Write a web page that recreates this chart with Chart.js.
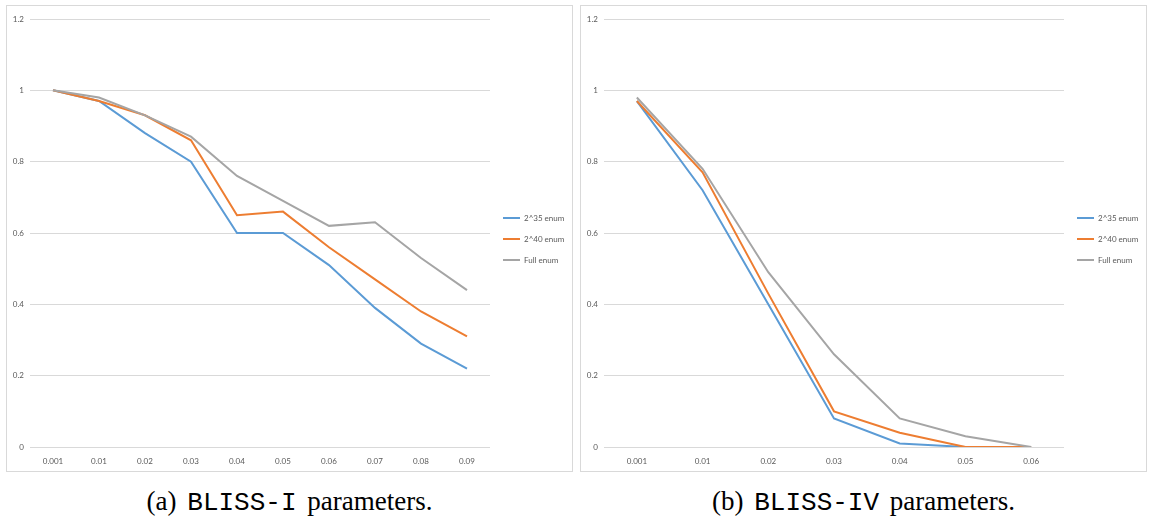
<!DOCTYPE html>
<html>
<head>
<meta charset="utf-8">
<script src="https://cdn.jsdelivr.net/npm/chart.js@4.4.0/dist/chart.umd.min.js"></script>
<style>
  html, body { margin: 0; padding: 0; background: #fff; }
  body { width: 1152px; height: 520px; position: relative; overflow: hidden; }
  .panel { position: absolute; top: 5px; width: 565px; height: 465px; border: 1px solid #d9d9d9; background: #fff; }
  .panel canvas { display: block; }
  .cap { position: absolute; top: 486px; text-align: center; font-family: "Liberation Serif", serif; font-size: 27px; word-spacing: 4px; color: #000; white-space: nowrap; }
  .cap .tt { font-family: "Liberation Mono", monospace; font-size: 26px; word-spacing: 0; }
</style>
</head>
<body>
<div class="panel" style="left:6px"><canvas id="cA" width="565" height="465"></canvas></div>
<div class="panel" style="left:580px"><canvas id="cB" width="565" height="465"></canvas></div>
<div class="cap" style="left:6px;width:567px">(a) <span class="tt">BLISS-I</span> parameters.</div>
<div class="cap" style="left:580px;width:567px">(b) <span class="tt">BLISS-IV</span> parameters.</div>
<script>
// ---- data ----
const seriesNames = ['2^35 enum', '2^40 enum', 'Full enum'];
const seriesColors = ['#5B9BD5', '#ED7D31', '#A5A5A5'];

const catsA = ['0.001', '0.01', '0.02', '0.03', '0.04', '0.05', '0.06', '0.07', '0.08', '0.09'];
const a35   = [1.00, 0.97, 0.88, 0.80, 0.60, 0.60, 0.51, 0.39, 0.29, 0.22];
const a40   = [1.00, 0.97, 0.93, 0.86, 0.65, 0.66, 0.56, 0.47, 0.38, 0.31];
const aFull = [1.00, 0.98, 0.93, 0.87, 0.76, 0.69, 0.62, 0.63, 0.53, 0.44];

const catsB = ['0.001', '0.01', '0.02', '0.03', '0.04', '0.05', '0.06'];
const b35   = [0.97, 0.72, 0.40, 0.08, 0.01, 0.00, 0.00];
const b40   = [0.97, 0.77, 0.43, 0.10, 0.04, 0.00, 0.00];
const bFull = [0.98, 0.78, 0.49, 0.26, 0.08, 0.03, 0.00];

const yMin = 0, yMax = 1.2, yStep = 0.2;

// ---- chart builder ----
const tickColor = '#595959';
const gridColor = '#d9d9d9';
const fontFam = 'Lato, "Open Sans", sans-serif';

const legendShift = {
  id: 'legendShift',
  afterLayout(chart) {
    if (chart.legend) { chart.legend.top -= 6; chart.legend.bottom -= 6; }
  }
};

function makeChart(id, cats, series) {
  const datasets = series.map((vals, i) => ({
    label: seriesNames[i],
    data: vals,
    order: series.length - 1 - i,
    borderColor: seriesColors[i],
    backgroundColor: seriesColors[i],
    borderWidth: 2,
    pointRadius: 0,
    pointHoverRadius: 0,
    tension: 0,
    fill: false
  }));
  return new Chart(document.getElementById(id), {
    type: 'line',
    data: { labels: cats, datasets },
    plugins: [legendShift],
    options: {
      responsive: false,
      animation: false,
      events: [],
      layout: { padding: { top: 13, left: 0, right: 0, bottom: 0 } },
      plugins: {
        tooltip: { enabled: false },
        title: { display: false },
        legend: {
          position: 'right',
          maxWidth: 82,
          labels: {
            boxWidth: 17,
            boxHeight: 2,
            padding: 13,
            color: tickColor,
            font: { family: fontFam, size: 8 },
            sort: (a, b) => a.datasetIndex - b.datasetIndex,
            generateLabels: (chart) => Chart.defaults.plugins.legend.labels.generateLabels(chart)
              .map(l => Object.assign(l, { lineWidth: 0, fillStyle: l.strokeStyle }))
          }
        }
      },
      scales: {
        x: {
          offset: true,
          grid: { display: false, offset: true },
          border: { display: false },
          ticks: { color: tickColor, font: { family: fontFam, size: 8 }, padding: 2, maxRotation: 0, autoSkip: false },
          afterFit: (s) => { s.height = 24; }
        },
        y: {
          min: yMin, max: yMax,
          grid: { color: gridColor, lineWidth: 1, drawTicks: false },
          border: { display: false },
          ticks: {
            stepSize: yStep,
            color: tickColor,
            font: { family: fontFam, size: 8 },
            padding: 6,
            callback: (v) => String(+(+v).toFixed(1))
          },
          afterFit: (s) => { s.width = 23; }
        }
      }
    }
  });
}

makeChart('cA', catsA, [a35, a40, aFull]);
makeChart('cB', catsB, [b35, b40, bFull]);
</script>
</body>
</html>
